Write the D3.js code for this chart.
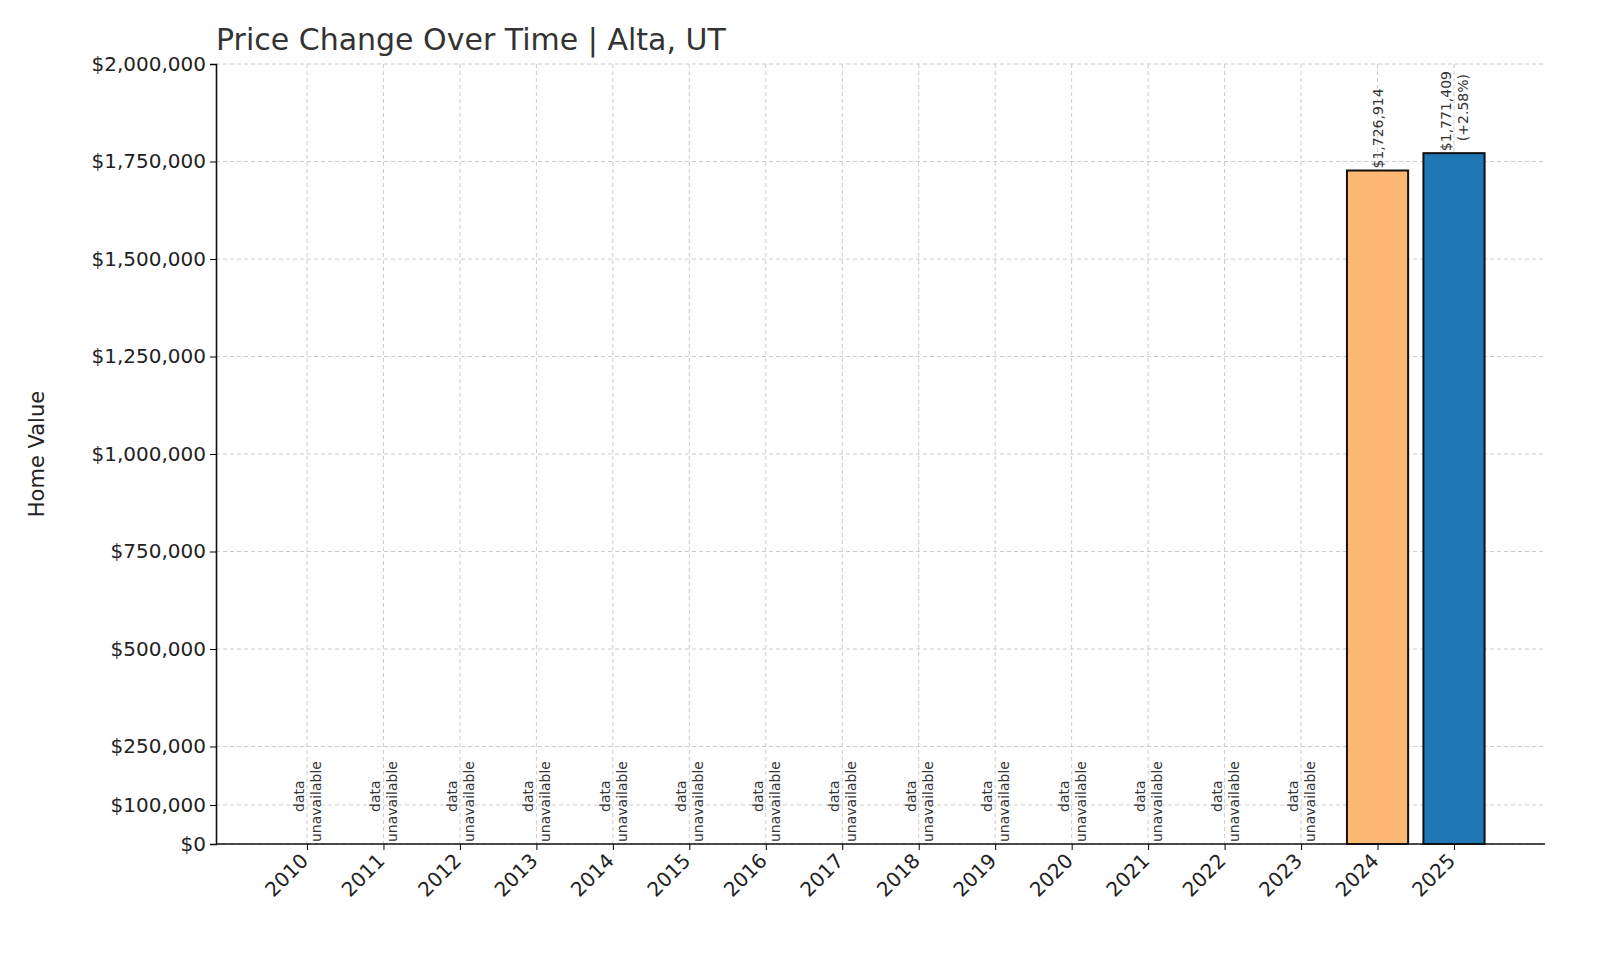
<!DOCTYPE html>
<html><head><meta charset="utf-8">
<script src="https://cdn.jsdelivr.net/npm/d3@7"></script>
<style>body{margin:0;background:#fff;font-family:"DejaVu Sans",sans-serif;}</style>
</head><body><svg id="chart" width="1600" height="960"></svg>
<script>
// data (null = unavailable)
const years = [2010,2011,2012,2013,2014,2015,2016,2017,2018,2019,2020,2021,2022,2023,2024,2025];
const values = [null,null,null,null,null,null,null,null,null,null,null,null,null,null,1726914,1771409];
const barColors = {2024: '#fdb974', 2025: '#1f77b4'};
const yTicks = [0,100000,250000,500000,750000,1000000,1250000,1500000,1750000,2000000];

const svg = d3.select('#chart');
const mLeft = 216, mRight = 1545, mTop = 64, mBottom = 844;

const x = d3.scalePoint().domain(years).range([mLeft, mRight]).padding(1.19);
const y = d3.scaleLinear().domain([0, 2000000]).range([mBottom, mTop]);
const bw = x.step() * 0.8;
const fmt = d3.format('$,');

// grid
svg.append('g').selectAll('line').data(yTicks).join('line')
  .attr('x1', mLeft).attr('x2', mRight).attr('y1', d => y(d)).attr('y2', d => y(d))
  .attr('stroke', '#ccc').attr('stroke-dasharray', '4,3');
svg.append('g').selectAll('line').data(years).join('line')
  .attr('x1', d => x(d)).attr('x2', d => x(d)).attr('y1', mTop).attr('y2', mBottom)
  .attr('stroke', '#ccc').attr('stroke-dasharray', '4,3');

// bars
const data = years.map((yr, i) => ({yr, v: values[i]}));
svg.append('g').selectAll('rect').data(data.filter(d => d.v != null)).join('rect')
  .attr('x', d => x(d.yr) - bw / 2).attr('width', bw)
  .attr('y', d => y(d.v)).attr('height', d => mBottom - y(d.v))
  .attr('fill', d => barColors[d.yr]).attr('stroke', '#111').attr('stroke-width', 2);

// labels
data.forEach((d, i) => {
  const cx = x(d.yr);
  if (d.v == null) {
    const t = svg.append('text').attr('transform', `translate(${cx},${mBottom - 2}) rotate(-90)`)
      .attr('font-size', 14).attr('fill', '#333');
    t.append('tspan').attr('x', 30).attr('y', -3).text('data');
    t.append('tspan').attr('x', 0).attr('y', 14).text('unavailable');
  } else {
    const prev = values[i - 1];
    const t = svg.append('text').attr('transform', `translate(${cx},${y(d.v) - 2}) rotate(-90)`)
      .attr('font-size', 14).attr('fill', '#333');
    if (prev != null) {
      const pct = (d.v - prev) / prev * 100;
      t.append('tspan').attr('x', 0).attr('y', -3).text(fmt(d.v));
      t.append('tspan').attr('x', 10).attr('y', 14).text(`(+${pct.toFixed(2)}%)`);
    } else {
      t.append('tspan').attr('x', 0).attr('y', 5).text(fmt(d.v));
    }
  }
});

// axes
const yAxis = svg.append('g').attr('transform', `translate(${mLeft},0)`)
  .call(d3.axisLeft(y).tickValues(yTicks).tickFormat(fmt).tickSize(6).tickPadding(4));
yAxis.select('.domain').attr('stroke', '#111').attr('stroke-width', 1.6);
yAxis.selectAll('text').attr('font-size', 20).attr('fill', '#222').attr('font-family', 'DejaVu Sans');

const xAxis = svg.append('g').attr('transform', `translate(0,${mBottom})`)
  .call(d3.axisBottom(x).tickSize(6).tickSizeOuter(0));
xAxis.select('.domain').attr('d', `M${mLeft},0H${mRight}`).attr('stroke', '#111').attr('stroke-width', 1.6);
xAxis.selectAll('text').attr('font-size', 20).attr('fill', '#222').attr('font-family', 'DejaVu Sans')
  .attr('text-anchor', 'end').attr('dy', null).attr('y', 0)
  .attr('transform', 'translate(2,18) rotate(-45)');

svg.append('text').attr('x', mLeft).attr('y', 50).attr('font-size', 30).attr('fill', '#333')
  .text('Price Change Over Time | Alta, UT');
svg.append('text').attr('transform', `translate(44,${(mTop + mBottom) / 2}) rotate(-90)`)
  .attr('text-anchor', 'middle').attr('font-size', 21).attr('fill', '#222').text('Home Value');
</script></body></html>
